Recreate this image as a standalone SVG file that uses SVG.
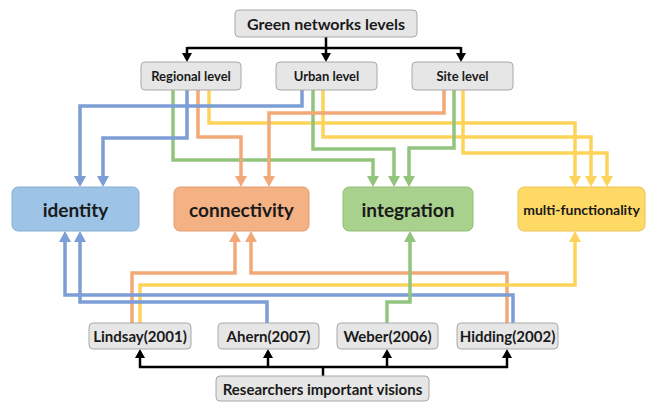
<svg xmlns="http://www.w3.org/2000/svg" width="649" height="402" viewBox="0 0 649 402">
<defs>
<style>
.gbox{fill:#e6e6e6;stroke:#a8a8a8;stroke-width:1}
.t{font-family:Lato,"Open Sans","Liberation Sans",sans-serif;font-weight:bold;fill:#1a1a1a;text-anchor:middle;dominant-baseline:central}
.k{fill:none;stroke:#000;stroke-width:2.5}
.c{fill:none;stroke-width:3.5;stroke-linejoin:miter}
.b{stroke:#7c9dd5}.o{stroke:#f2a877}.g{stroke:#93c47d}.y{stroke:#fdd35a}
</style>
<marker id="ab" markerUnits="userSpaceOnUse" markerWidth="11" markerHeight="12" refX="0" refY="6" orient="auto" viewBox="0 0 11 12"><path d="M0,0 L11,6 L0,12 z" fill="#7c9dd5"/></marker>
<marker id="ao" markerUnits="userSpaceOnUse" markerWidth="11" markerHeight="12" refX="0" refY="6" orient="auto" viewBox="0 0 11 12"><path d="M0,0 L11,6 L0,12 z" fill="#f2a877"/></marker>
<marker id="ag" markerUnits="userSpaceOnUse" markerWidth="11" markerHeight="12" refX="0" refY="6" orient="auto" viewBox="0 0 11 12"><path d="M0,0 L11,6 L0,12 z" fill="#93c47d"/></marker>
<marker id="ay" markerUnits="userSpaceOnUse" markerWidth="11" markerHeight="12" refX="0" refY="6" orient="auto" viewBox="0 0 11 12"><path d="M0,0 L11,6 L0,12 z" fill="#fdd35a"/></marker>
<marker id="ak" markerUnits="userSpaceOnUse" markerWidth="9" markerHeight="10" refX="0" refY="5" orient="auto" viewBox="0 0 9 10"><path d="M0,0 L9,5 L0,10 z" fill="#000"/></marker>
</defs>
<rect width="649" height="402" fill="#fff"/>

<g id="connectors">
<path class="k" d="M187,48 H461"/>
<path class="k" d="M326,37 V53" marker-end="url(#ak)"/>
<path class="k" d="M187,47 V53" marker-end="url(#ak)"/>
<path class="k" d="M461,47 V53" marker-end="url(#ak)"/>
<path class="k" d="M139,367 H508"/>
<path class="k" d="M323,376 V367"/>
<path class="k" d="M140,368 V358" marker-end="url(#ak)"/>
<path class="k" d="M268,368 V358" marker-end="url(#ak)"/>
<path class="k" d="M387,368 V358" marker-end="url(#ak)"/>
<path class="k" d="M507,368 V358" marker-end="url(#ak)"/>
<path class="c y" d="M209,90 V123 H575 V176" marker-end="url(#ay)"/>
<path class="c y" d="M323,90 V137 H591 V176" marker-end="url(#ay)"/>
<path class="c y" d="M463,90 V153 H607 V176" marker-end="url(#ay)"/>
<path class="c g" d="M173,90 V160 H373 V176" marker-end="url(#ag)"/>
<path class="c g" d="M313,90 V149 H394 V176" marker-end="url(#ag)"/>
<path class="c g" d="M454,90 V148 H409 V176" marker-end="url(#ag)"/>
<path class="c o" d="M198,90 V137 H241 V176" marker-end="url(#ao)"/>
<path class="c o" d="M444,90 V113 H269 V176" marker-end="url(#ao)"/>
<path class="c b" d="M302,90 V106 H80 V176" marker-end="url(#ab)"/>
<path class="c b" d="M187,90 V138 H103 V176" marker-end="url(#ab)"/>
<path class="c o" d="M132,323 V273 H235 V242" marker-end="url(#ao)"/>
<path class="c o" d="M507,323 V273 H251 V242" marker-end="url(#ao)"/>
<path class="c y" d="M140,323 V285 H575 V242" marker-end="url(#ay)"/>
<path class="c b" d="M513,323 V295 H65 V242" marker-end="url(#ab)"/>
<path class="c b" d="M267,323 V302 H80 V242" marker-end="url(#ab)"/>
<path class="c g" d="M387,323 V302 H410 V242" marker-end="url(#ag)"/>
</g>

<g id="green-networks-levels">
<rect class="gbox" x="235" y="10" width="182" height="27" rx="4"/>
<text class="t" x="326" y="23.5" font-size="16">Green networks levels</text>
</g>
<g id="regional-level">
<rect class="gbox" x="141" y="62" width="100" height="28" rx="4"/>
<text class="t" x="191" y="76" font-size="13">Regional level</text>
</g>
<g id="urban-level">
<rect class="gbox" x="276" y="62" width="101" height="28" rx="4"/>
<text class="t" x="326.5" y="76" font-size="13">Urban level</text>
</g>
<g id="site-level">
<rect class="gbox" x="412" y="62" width="101" height="28" rx="4"/>
<text class="t" x="462.5" y="76" font-size="13">Site level</text>
</g>

<g id="identity">
<rect x="12" y="187" width="127" height="44" rx="6" fill="#9dc3e6" stroke="#87aed3"/>
<text class="t" x="75.5" y="209" font-size="19">identity</text>
</g>
<g id="connectivity">
<rect x="174" y="187" width="135" height="44" rx="6" fill="#f4b183" stroke="#e09c6e"/>
<text class="t" x="241.5" y="209" font-size="19">connectivity</text>
</g>
<g id="integration">
<rect x="343" y="187" width="130" height="44" rx="6" fill="#a9d18e" stroke="#93bd78"/>
<text class="t" x="408" y="209" font-size="19">integration</text>
</g>
<g id="multi-functionality">
<rect x="518" y="187" width="127" height="44" rx="6" fill="#ffd966" stroke="#e8c455"/>
<text class="t" x="581.5" y="209" font-size="14">multi-functionality</text>
</g>

<g id="lindsay">
<rect class="gbox" x="89" y="323" width="102" height="26" rx="4"/>
<text class="t" x="140" y="336" font-size="15">Lindsay(2001)</text>
</g>
<g id="ahern">
<rect class="gbox" x="218" y="323" width="101" height="26" rx="4"/>
<text class="t" x="268.5" y="336" font-size="15">Ahern(2007)</text>
</g>
<g id="weber">
<rect class="gbox" x="337" y="323" width="101" height="26" rx="4"/>
<text class="t" x="387.5" y="336" font-size="15">Weber(2006)</text>
</g>
<g id="hidding">
<rect class="gbox" x="457" y="323" width="101" height="26" rx="4"/>
<text class="t" x="507.5" y="336" font-size="15">Hidding(2002)</text>
</g>
<g id="researchers-important-visions">
<rect class="gbox" x="216" y="376" width="213" height="25" rx="4"/>
<text class="t" x="322.5" y="388.5" font-size="15">Researchers important visions</text>
</g>
</svg>
